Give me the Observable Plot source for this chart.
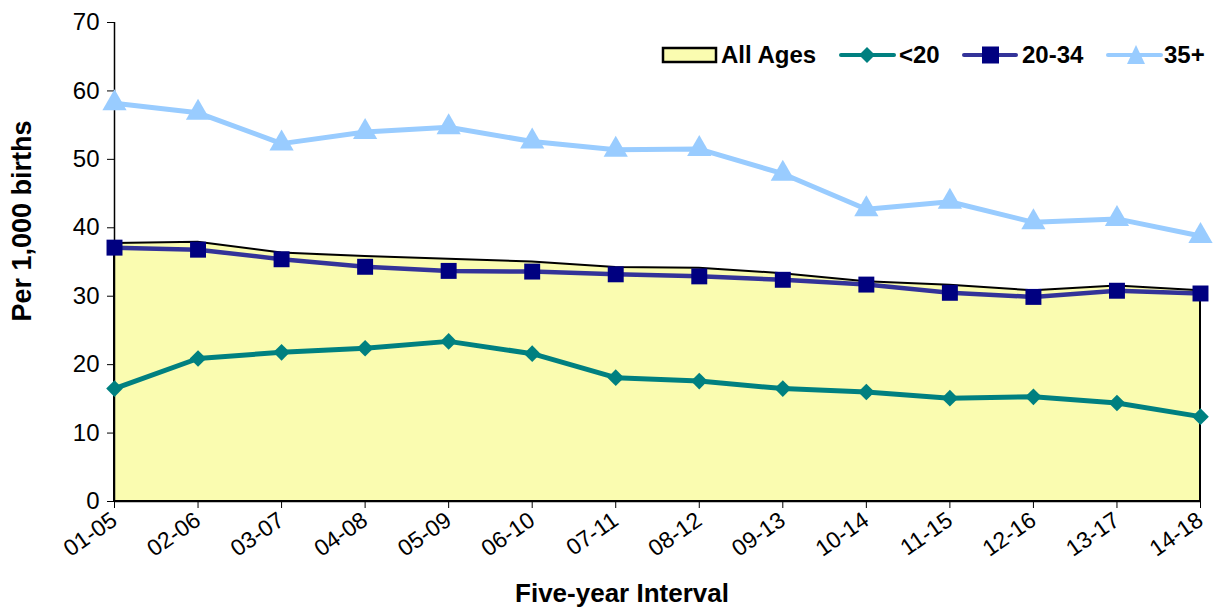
<!DOCTYPE html>
<html><head><meta charset="utf-8">
<script src="https://cdn.jsdelivr.net/npm/d3@7"></script>
<script src="https://cdn.jsdelivr.net/npm/@observablehq/plot@0.6"></script>
<style>
body{margin:0;background:#fff;font-family:"Liberation Sans",Arial,sans-serif;}
#wrap{position:relative;width:1214px;height:607px;}
.title{position:absolute;font-weight:bold;color:#000;white-space:nowrap;}
#ylab{left:22px;top:221px;font-size:27px;transform:translate(-50%,-50%) rotate(-90deg);}
#xlab{left:622px;top:593px;font-size:26px;transform:translate(-50%,-50%);}
.lg{position:absolute;top:55px;transform:translateY(-50%);font-weight:bold;font-size:24px;white-space:nowrap;line-height:1;}
.sw{position:absolute;top:55px;transform:translateY(-50%);display:block;}
</style></head>
<body><div id="wrap"><div id="chart"></div>
<div class="title" id="ylab">Per 1,000 births</div>
<div class="title" id="xlab">Five-year Interval</div>
<svg class="sw" style="left:661px" width="58" height="20"><rect x="2" y="3" width="53" height="14" fill="#FAFCB0" stroke="#000" stroke-width="2.5"/></svg>
<div class="lg" style="left:721px">All Ages</div>
<svg class="sw" style="left:837px" width="61" height="20"><line x1="4" y1="10" x2="57" y2="10" stroke="#008080" stroke-width="4" stroke-linecap="round"/><path d="M30,2 L38,10 L30,18 L22,10Z" fill="#008080"/></svg>
<div class="lg" style="left:899px">&lt;20</div>
<svg class="sw" style="left:960px" width="61" height="20"><line x1="4" y1="10" x2="56" y2="10" stroke="#333399" stroke-width="4" stroke-linecap="round"/><rect x="22" y="1.5" width="17" height="17" fill="#000080"/></svg>
<div class="lg" style="left:1022px">20-34</div>
<svg class="sw" style="left:1104px" width="61" height="22"><line x1="4" y1="11" x2="57" y2="11" stroke="#99CCFF" stroke-width="4" stroke-linecap="round"/><path d="M32,1 L41,20 L23,20Z" fill="#99CCFF"/></svg>
<div class="lg" style="left:1164px">35+</div>
</div>
<script>
const intervals = ["01-05","02-06","03-07","04-08","05-09","06-10","07-11","08-12","09-13","10-14","11-15","12-16","13-17","14-18"];
const allAges = [37.7,37.9,36.3,35.8,35.4,35.0,34.2,34.1,33.3,32.1,31.6,30.8,31.5,30.8];
const under20 = [16.5,20.9,21.8,22.4,23.4,21.6,18.1,17.6,16.5,16.0,15.1,15.3,14.4,12.4];
const age20to34 = [37.1,36.8,35.4,34.3,33.7,33.6,33.2,32.9,32.4,31.7,30.5,29.9,30.8,30.4];
const age35plus = [58.2,56.8,52.3,54.0,54.7,52.6,51.4,51.5,47.9,42.7,43.8,40.8,41.3,38.8];
const yTicks = [0,10,20,30,40,50,60,70];

const rows = (vals) => intervals.map((k,i)=>({k, v: vals[i]}));

const chart = Plot.plot({
  width: 1214, height: 607,
  marginLeft: 114, marginRight: 14, marginTop: 22, marginBottom: 106,
  style: {fontFamily: '"Liberation Sans", Arial, sans-serif', color: "#000", background: "#fff"},
  x: {type: "point", domain: intervals, padding: 0, round: false},
  y: {domain: [0,70]},
  marks: [
    Plot.areaY(rows(allAges), {x:"k", y:"v", fill:"#FAFCB0", stroke:"#000", strokeWidth:2}),
    Plot.axisY({ticks: yTicks, tickSize: 7, tickPadding: 8, fontSize: 24, label: null, stroke:"#000"}),
    Plot.axisX({tickSize: 7, tickRotate: -35, fontSize: 23, label: null, tickPadding: 9}),
    Plot.ruleX([intervals[0]], {stroke:"#000", strokeWidth:1.5}),
    Plot.ruleY([0], {stroke:"#000", strokeWidth:1.5}),
    Plot.lineY(rows(age35plus), {x:"k", y:"v", stroke:"#99CCFF", strokeWidth:5}),
    Plot.dot(rows(age35plus), {x:"k", y:"v", symbol:"triangle", r:9, fill:"#99CCFF", stroke:"none"}),
    Plot.lineY(rows(age20to34), {x:"k", y:"v", stroke:"#333399", strokeWidth:4.5}),
    Plot.dot(rows(age20to34), {x:"k", y:"v", symbol:"square", r:9, fill:"#000080", stroke:"none"}),
    Plot.lineY(rows(under20), {x:"k", y:"v", stroke:"#008080", strokeWidth:5}),
    Plot.dot(rows(under20), {x:"k", y:"v", symbol:"diamond2", r:7.5, fill:"#008080", stroke:"none"})
  ]
});
document.getElementById("chart").appendChild(chart);
</script>
</body></html>
